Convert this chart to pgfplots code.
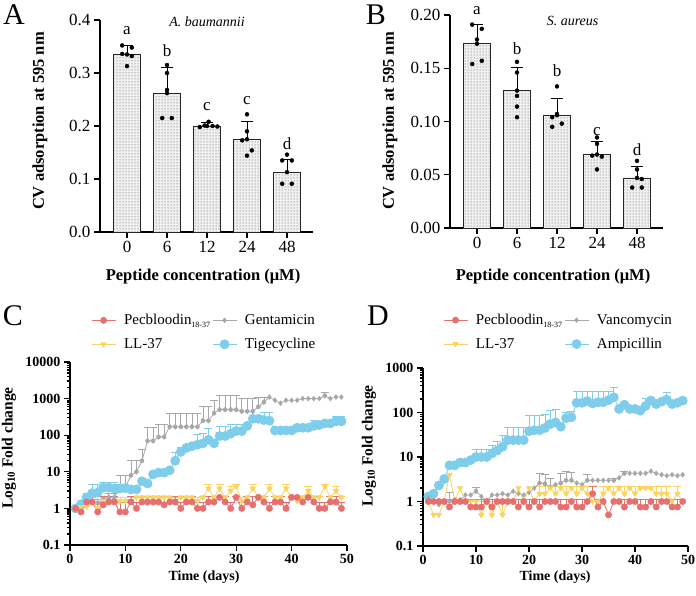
\documentclass[border=0pt]{standalone}
\usepackage{fontspec}
\setmainfont{Liberation Serif}
\usepackage{pgfplots}
\pgfplotsset{compat=1.18}
\usepackage{pgfplotstable}
\usetikzlibrary{patterns}

\definecolor{cred}{RGB}{230,112,112}
\definecolor{cyel}{RGB}{250,212,95}
\definecolor{cgray}{RGB}{168,168,168}
\definecolor{cblue}{RGB}{125,205,235}

\pgfplotstableread{
d pec pecE ll llE gen genE tig tigE
1 1.0 0 1.0 0 1.0 0 1.0 0
2 0.8 0 1.1 0 1.3 0 1.3 0
3 1.5 0.7 1.1 0 1.5 0.5 2.0 0.6
4 1.5 0.7 1.6 0.4 1.5 0.5 2.6 2.0
5 0.8 0.7 1.0 0.3 1.4 0.4 2.7 1.8
6 1.25 0.9 1.6 0.4 1.8 0.4 3.7 1.6
7 1.5 0.7 1.6 0.4 2.0 0.6 3.7 1.6
8 1.5 0.7 1.6 0.4 2.0 0.6 3.5 1.8
9 0.8 0.7 1.6 0.4 3.8 4.0 3.5 1.0
10 0.8 0.7 1.6 0.4 3.8 4.0 3.6 0.5
11 1.5 0.7 1.6 0.4 8 12 3.3 0
12 1.0 0.5 2.0 0.2 10 10 3.3 0
13 1.5 0.7 2.0 0.2 20 20 5.5 0
14 1.5 0.7 2.0 0.2 70 90 4.8 0
15 1.5 0.7 2.0 0.2 70 90 8.5 0
16 1.5 0.7 2.0 0.2 90 110 9.5 0
17 1.25 0.9 2.0 0.2 90 110 9.5 0
18 1.5 0.7 2.0 0.2 170 230 11 0
19 1.5 0.7 1.6 0.4 170 230 20 15
20 1.0 0.5 2.0 0.2 170 230 35 12
21 1.5 0.7 2.0 0.2 170 230 45 0
22 1.5 0.7 2.0 0.2 170 230 50 0
23 1.0 0.5 1.6 0.4 170 230 55 50
24 1.0 0.5 2.0 0.2 250 350 60 50
25 1.5 0.7 3.5 1.0 250 350 75 75
26 1.5 0.7 2.0 0.2 400 500 60 0
27 2.0 0.2 3.5 1.0 500 700 95 85
28 1.5 0.7 2.0 0.2 500 700 95 85
29 1.0 0.5 3.0 1.0 500 700 110 90
30 2.0 0.2 4.0 0.5 500 700 130 70
31 1.0 0.5 1.6 0.4 450 550 130 70
32 1.5 0.7 2.0 0.2 450 550 180 0
33 1.25 0.9 3.5 1.0 450 550 280 0
34 2.0 0.2 2.0 0.2 600 500 280 0
35 1.5 0.7 2.0 0.2 800 300 260 170
36 1.0 0.5 3.5 1.0 1100 0 250 180
37 1.5 0.7 2.0 0.2 900 0 135 0
38 1.5 0.7 2.0 0.2 750 0 135 0
39 1.0 0.5 3.5 1.0 900 0 135 0
40 2.0 0.2 2.0 0.2 900 0 135 0
41 2.0 0.2 1.6 0.4 900 0 160 0
42 1.5 0.7 2.0 0.2 1000 0 160 0
43 2.0 0.2 3.0 1.0 1000 0 160 0
44 1.5 0.7 2.0 0.2 1000 0 180 80
45 1.0 0.5 2.0 0.2 1000 0 190 0
46 1.0 0.5 4.0 0.5 1200 250 210 0
47 1.5 0.7 2.0 0.2 1000 0 210 0
48 1.5 0.7 3.0 1.0 1100 0 240 80
49 1.0 0.5 2.0 0.2 1100 0 240 80
}\tabC

\pgfplotstableread{
d pec pecE ll llE van vanE amp ampE
1 1.0 0 1.0 0 1.2 0 1.3 0
2 1.0 0 0.5 0 1.0 0 1.5 0
3 1.0 0 0.5 0 0.85 0 2.3 0
4 1.0 0 1.0 0 1.0 0 3.2 0
5 0.75 0.35 4.0 0 1.0 0.6 6.5 0
6 1.0 0 1.0 0 1.1 0 6.5 0
7 1.0 0 2.0 0 1.1 0 7.5 1.5
8 1.0 0 1.0 0 1.4 0 7.5 1.5
9 0.75 0.35 1.0 0 1.4 0 8.5 1.5
10 0.75 0.35 1.0 0 1.7 0.4 10 5
11 0.75 0.35 0.5 0.5 1.3 0 10 5
12 1.0 0 1.0 0 1.0 0 10 5
13 0.75 0.35 0.5 0.5 1.4 0 12 6
14 1.0 0 1.0 0 1.4 0 14 9
15 1.0 0 0.5 0.5 1.5 0 17 13
16 1.0 0 1.0 0 1.4 0 24 23
17 1.0 0 1.0 0 1.7 0 24 23
18 0.75 0.35 2.0 0 1.5 0 24 23
19 1.0 0 1.0 0 1.4 0 24 23
20 0.75 0.35 2.0 0 1.6 0 38 47
21 1.0 0 1.0 0 2.0 0 40 45
22 0.75 0.35 1.5 0.7 2.6 1.6 40 45
23 1.0 0 1.5 0.7 2.5 1.6 45 45
24 1.0 0 2.0 0.2 2.1 1.2 55 58
25 1.0 0 1.5 0.7 2.4 0 60 55
26 0.75 0.35 2.0 0.2 2.6 1.6 48 0
27 0.75 0.35 1.5 0.7 3.0 1.7 75 26
28 1.0 0 2.0 0.2 3.0 1.5 78 26
29 0.75 0.35 1.5 0.7 2.6 0 165 140
30 0.75 0.35 2.0 0.2 2.4 0 165 140
31 1.0 0 1.5 0.7 3.0 1.0 180 120
32 1.5 0.7 1.0 0 3.0 0 160 140
33 0.75 0.35 1.0 0 3.0 0 170 130
34 1.0 0 1.5 0.7 3.0 0 170 130
35 0.5 0 2.0 0.2 3.0 0 190 110
36 1.0 0 1.5 0.7 3.0 0.3 220 146
37 1.0 0 2.0 0.2 3.4 0 120 0
38 0.75 0.35 1.5 0.7 4.3 0.5 150 0
39 1.0 0 2.0 0.2 4.3 0 120 0
40 1.0 0 1.5 0.7 4.3 0 120 0
41 0.75 0.35 2.0 0.2 4.3 0 110 0
42 0.75 0.35 2.0 0.2 4.3 0 140 70
43 1.0 0 2.0 0.2 4.8 0 185 30
44 0.75 0.35 1.5 0.7 4.3 0 155 0
45 1.0 0 1.5 0.7 4.0 0 175 0
46 1.0 0 1.5 0.7 3.8 0 195 85
47 0.75 0.35 1.0 0 4.0 0 155 0
48 0.75 0.35 1.5 0.7 3.8 0 165 0
49 1.0 0 1.0 0 4.0 0 185 0
}\tabD

\newcommand{\errplot}[4]{%
\addplot[forget plot, only marks, mark=none, #4,
  restrict expr to domain={\thisrow{#3}}{0.001:1000000},
  error bars/.cd, y dir=plus, y explicit, error mark=-,
  error bar style={draw=#4, line width=0.7pt, solid},
  error mark options={rotate=90, draw=#4, mark size=4pt, line width=0.7pt}]
  table[x=d, y=#2, y error=#3] {#1};}

\newcommand{\pecname}{Pecbloodin\raisebox{-3pt}{\fontsize{8}{8}\selectfont 18-37}}

\pgfplotsset{
  gp/.style={scale only axis, axis lines*=left,
    axis line style={line width=1.3pt, -},
    tick style={line width=1.3pt, black},
    major tick length=6pt, tick align=outside,
    /pgf/number format/assume math mode=true},
  bardots/.style={only marks, mark=*, mark size=2pt, black},
  lgd/.style={legend style={draw=none, fill=none,
      font=\fontsize{15}{15}\selectfont, row sep=8pt,
      /tikz/every odd column/.append style={column sep=6pt}},
    legend columns=2, transpose legend, legend cell align=left,
    legend image code/.code={\draw[##1, mark repeat=2, mark phase=2] plot coordinates {(0pt,0pt) (12pt,0pt) (24pt,0pt)};}}
}

\begin{document}
\begin{tikzpicture}
\useasboundingbox (0,0) rectangle (696pt,595pt);

% ---------------- Panel A
\begin{axis}[gp, at={(100pt,363pt)}, anchor=south west, width=213pt, height=212pt,
  xmin=-0.675, xmax=4.65, ymin=0, ymax=0.4,
  xtick={0,1,2,3,4}, xticklabels={0,6,12,24,48},
  ytick={0,0.1,0.2,0.3,0.4},
  yticklabel style={/pgf/number format/.cd, fixed, fixed zerofill, precision=1},
  ticklabel style={font=\fontsize{17}{17}\selectfont}, clip=false]
\addplot[ybar, bar width=27pt, bar shift=0pt, draw=black!85, line width=0.8pt,
  fill=gray!12, postaction={pattern=dots, pattern color=black!70}]
  coordinates {(0,0.335) (1,0.262) (2,0.200) (3,0.175) (4,0.113)};
\addplot[forget plot, only marks, mark=none, black, error bars/.cd, y dir=plus, y explicit, error mark=-,
  error bar style={draw=black, line width=0.8pt, solid},
  error mark options={rotate=90, draw=black, mark size=6pt, line width=0.8pt}]
  coordinates {(0,0.335) +- (0,0.017) (1,0.262) +- (0,0.048) (2,0.200) +- (0,0.006) (3,0.175) +- (0,0.033) (4,0.113) +- (0,0.024)};
\addplot[bardots] coordinates {
 (-0.12,0.352) (0.12,0.348) (-0.12,0.336) (0.12,0.332) (0,0.313)
 (1,0.315) (1,0.300) (1,0.268) (0.88,0.215) (1.12,0.215)
 (1.82,0.198) (1.94,0.201) (2.04,0.208) (2.14,0.200) (2.26,0.199)
 (3,0.222) (3,0.190) (2.88,0.173) (3.12,0.154) (3,0.144)
 (4,0.146) (3.88,0.135) (4.12,0.135) (3.88,0.091) (4.12,0.091)};
\begin{scope}[font=\fontsize{17}{17}\selectfont]
\node at (axis cs:0,0.380) {a};
\node at (axis cs:1,0.342) {b};
\node at (axis cs:2,0.236) {c};
\node at (axis cs:3,0.248) {c};
\node at (axis cs:4,0.167) {d};
\end{scope}
\node[font=\itshape\fontsize{14}{14}\selectfont] at (axis cs:2,0.396) {A. baumannii};
\end{axis}

% ---------------- Panel B
\begin{axis}[gp, at={(450pt,367pt)}, anchor=south west, width=213pt, height=213pt,
  xmin=-0.675, xmax=4.65, ymin=0, ymax=0.2,
  xtick={0,1,2,3,4}, xticklabels={0,6,12,24,48},
  ytick={0,0.05,0.1,0.15,0.2},
  yticklabel style={/pgf/number format/.cd, fixed, fixed zerofill, precision=2},
  ticklabel style={font=\fontsize{17}{17}\selectfont}, clip=false]
\addplot[ybar, bar width=27pt, bar shift=0pt, draw=black!85, line width=0.8pt,
  fill=gray!12, postaction={pattern=dots, pattern color=black!70}]
  coordinates {(0,0.173) (1,0.129) (2,0.106) (3,0.069) (4,0.047)};
\addplot[forget plot, only marks, mark=none, black, error bars/.cd, y dir=plus, y explicit, error mark=-,
  error bar style={draw=black, line width=0.8pt, solid},
  error mark options={rotate=90, draw=black, mark size=6pt, line width=0.8pt}]
  coordinates {(0,0.173) +- (0,0.018) (1,0.129) +- (0,0.022) (2,0.106) +- (0,0.016) (3,0.069) +- (0,0.012) (4,0.047) +- (0,0.011)};
\addplot[bardots] coordinates {
 (-0.12,0.191) (0.12,0.187) (0,0.177) (0.12,0.157) (-0.12,0.154)
 (1,0.156) (1,0.146) (1,0.124) (1,0.114) (1,0.104)
 (2,0.133) (2,0.107) (1.88,0.104) (2.12,0.098) (1.88,0.095)
 (3,0.085) (3,0.079) (2.88,0.068) (3.12,0.067) (3,0.055)
 (4,0.063) (4,0.055) (4.12,0.046) (3.88,0.038) (4.12,0.038)};
\begin{scope}[font=\fontsize{17}{17}\selectfont]
\node at (axis cs:0,0.204) {a};
\node at (axis cs:1,0.168) {b};
\node at (axis cs:2,0.148) {b};
\node at (axis cs:3,0.091) {c};
\node at (axis cs:4,0.074) {d};
\end{scope}
\node[font=\itshape\fontsize{14}{14}\selectfont] at (axis cs:2.39,0.194) {S. aureus};
\end{axis}

% ---------------- Panel C
\begin{axis}[gp, lgd, at={(70pt,50pt)}, anchor=south west, width=277pt, height=183pt,
  xmin=0, xmax=50, ymode=log, ymin=0.1, ymax=10000,
  xtick={0,10,20,30,40,50},
  ytick={0.1,1,10,100,1000,10000}, yticklabels={0.1,1,10,100,1000,10000},
  ticklabel style={font=\bfseries\fontsize{14}{14}\selectfont},
  legend style={at={(0.065,1.283)}, anchor=north west}]
\addlegendimage{cred, line width=0.8pt, mark=*, mark size=3pt}
\addlegendentry{\pecname}
\addlegendimage{cyel, line width=0.8pt, mark=triangle*, mark size=2.8pt, mark options={rotate=180}}
\addlegendentry{LL-37}
\addlegendimage{cgray, line width=0.8pt, mark=diamond*, mark size=2.2pt}
\addlegendentry{Gentamicin}
\addlegendimage{cblue, line width=0.8pt, mark=*, mark size=4.5pt}
\addlegendentry{Tigecycline}
\errplot{\tabC}{gen}{genE}{cgray}
\errplot{\tabC}{tig}{tigE}{cblue}
\errplot{\tabC}{ll}{llE}{cyel}
\errplot{\tabC}{pec}{pecE}{cred}
\addplot[forget plot, cgray, line width=0.8pt, mark=diamond*, mark size=2.2pt] table[x=d, y=gen] {\tabC};
\addplot[forget plot, cblue, line width=0.8pt, mark=*, mark size=4.5pt] table[x=d, y=tig] {\tabC};
\addplot[forget plot, cyel, line width=0.8pt, mark=triangle*, mark size=2.8pt, mark options={rotate=180}] table[x=d, y=ll] {\tabC};
\addplot[forget plot, cred, line width=0.8pt, mark=*, mark size=3pt] table[x=d, y=pec] {\tabC};
\end{axis}

% ---------------- Panel D
\begin{axis}[gp, lgd, at={(423pt,49pt)}, anchor=south west, width=265pt, height=178pt,
  xmin=0, xmax=50, ymode=log, ymin=0.1, ymax=1000,
  xtick={0,10,20,30,40,50},
  ytick={0.1,1,10,100,1000}, yticklabels={0.1,1,10,100,1000},
  ticklabel style={font=\bfseries\fontsize{14}{14}\selectfont},
  legend style={at={(0.064,1.326)}, anchor=north west}]
\addlegendimage{cred, line width=0.8pt, mark=*, mark size=3pt}
\addlegendentry{\pecname}
\addlegendimage{cyel, line width=0.8pt, mark=triangle*, mark size=2.8pt, mark options={rotate=180}}
\addlegendentry{LL-37}
\addlegendimage{cgray, line width=0.8pt, mark=diamond*, mark size=2.2pt}
\addlegendentry{Vancomycin}
\addlegendimage{cblue, line width=0.8pt, mark=*, mark size=4.5pt}
\addlegendentry{Ampicillin}
\errplot{\tabD}{amp}{ampE}{cblue}
\errplot{\tabD}{van}{vanE}{cgray}
\errplot{\tabD}{ll}{llE}{cyel}
\errplot{\tabD}{pec}{pecE}{cred}
\addplot[forget plot, cblue, line width=0.8pt, mark=*, mark size=4.5pt] table[x=d, y=amp] {\tabD};
\addplot[forget plot, cgray, line width=0.8pt, mark=diamond*, mark size=2.2pt] table[x=d, y=van] {\tabD};
\addplot[forget plot, cyel, line width=0.8pt, mark=triangle*, mark size=2.8pt, mark options={rotate=180}] table[x=d, y=ll] {\tabD};
\addplot[forget plot, cred, line width=0.8pt, mark=*, mark size=3pt] table[x=d, y=pec] {\tabD};
\end{axis}

% ---------------- Labels
\node[font=\fontsize{30}{30}\selectfont] at (14pt,580pt) {A};
\node[font=\fontsize{30}{30}\selectfont] at (376pt,580pt) {B};
\node[font=\fontsize{30}{30}\selectfont] at (13pt,279pt) {C};
\node[font=\fontsize{30}{30}\selectfont] at (378pt,279pt) {D};
\begin{scope}[font=\bfseries\fontsize{16.5}{16.5}\selectfont]
\node[rotate=90] at (40pt,474pt) {CV adsorption at 595 nm};
\node[rotate=90] at (390pt,474pt) {CV adsorption at 595 nm};
\node at (203pt,318pt) {Peptide concentration (μM)};
\node at (553pt,318pt) {Peptide concentration (μM)};
\end{scope}
\begin{scope}[font=\bfseries\fontsize{15.5}{15.5}\selectfont]
\node[rotate=90] at (9pt,147pt) {Log\textsubscript{10} Fold change};
\node[rotate=90] at (369pt,149pt) {Log\textsubscript{10} Fold change};
\end{scope}
\begin{scope}[font=\bfseries\fontsize{14}{14}\selectfont]
\node at (204pt,18pt) {Time (days)};
\node at (555pt,18pt) {Time (days)};
\end{scope}
\end{tikzpicture}
\end{document}
